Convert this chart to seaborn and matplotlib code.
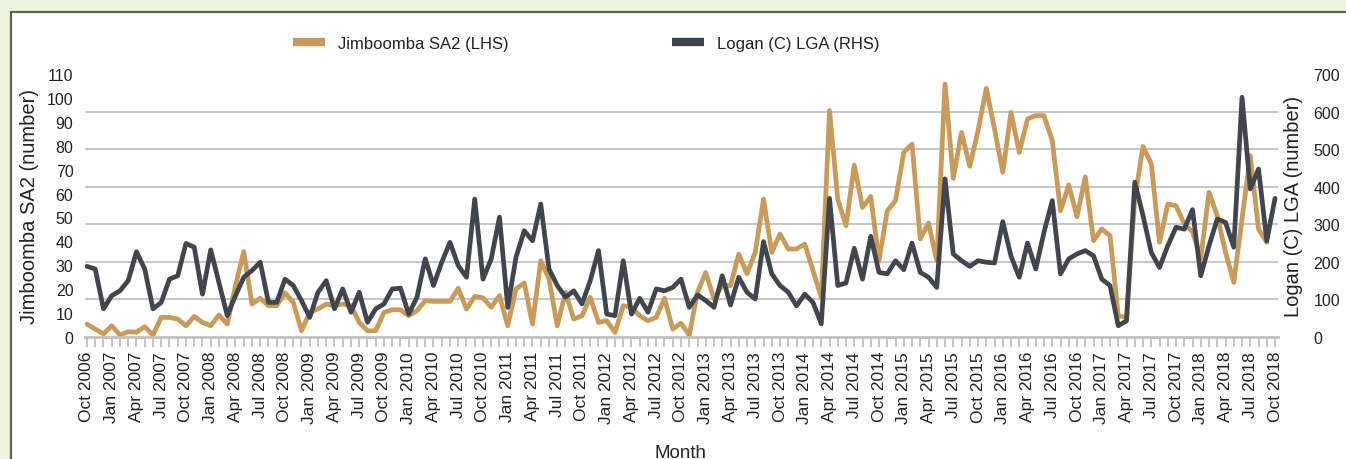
import matplotlib
matplotlib.use("Agg")
import matplotlib.pyplot as plt
from matplotlib.lines import Line2D
from matplotlib.patches import Rectangle
import numpy as np
import pandas as pd
import seaborn as sns

# monthly, Oct 2006 - Oct 2018
months = pd.date_range("2006-10-01", periods=145, freq="MS")

jimboomba = [
    5.4, 3.3, 1.3, 4.7, 0.8, 2.2, 2.0, 4.3, 0.8, 8.2, 8.2, 7.5,
    4.7, 8.6, 6.1, 4.7, 9.2, 5.4, 21.5, 35.7, 13.8, 16.2, 13.1, 13.1,
    18.5, 14.5, 2.6, 10.3, 11.7, 13.8, 13.1, 13.8, 13.1, 6.1, 2.6, 2.6,
    10.3, 11.4, 11.4, 8.9, 11.0, 15.2, 14.9, 14.9, 14.9, 20.4, 11.7, 17.0,
    16.4, 12.4, 17.3, 4.7, 20.1, 22.6, 5.4, 31.9, 24.3, 4.7, 18.7, 7.5,
    8.9, 16.6, 6.1, 6.8, 1.9, 13.1, 12.4, 8.9, 6.8, 8.2, 16.2, 3.3,
    5.8, 0.8, 18.7, 27.0, 15.9, 21.5, 21.5, 34.7, 26.4, 35.4, 57.7, 35.4,
    43.1, 36.8, 36.8, 38.9, 27.7, 16.6, 94.7, 57.7, 46.6, 71.9, 54.2, 58.8,
    31.9, 52.8, 57.0, 77.2, 80.7, 41.0, 47.7, 31.9, 105.8, 66.4, 85.6, 71.4,
    86.3, 104.0, 87.0, 68.9, 94.0, 77.2, 91.2, 92.6, 92.6, 82.1, 52.8, 63.6,
    50.3, 67.0, 40.3, 45.2, 42.4, 8.9, 8.2, 57.7, 79.7, 72.4, 39.6, 55.6,
    54.9, 47.3, 44.0, 33.0, 60.5, 50.7, 35.4, 22.9, 49.4, 75.8, 45.2, 39.6,
    np.nan,
]

logan = [
    188, 181, 75, 110, 123, 150, 227, 181, 75, 92, 154, 163,
    249, 239, 114, 232, 145, 57, 110, 159, 177, 199, 92, 92,
    154, 137, 97, 52, 119, 150, 75, 128, 66, 119, 39, 75,
    88, 128, 130, 61, 106, 208, 137, 199, 252, 190, 159, 367,
    154, 208, 319, 79, 212, 283, 256, 354, 181, 137, 106, 123,
    88, 150, 230, 61, 57, 203, 61, 103, 66, 128, 123, 132,
    154, 79, 112, 97, 79, 163, 85, 159, 119, 101, 254, 168,
    137, 119, 83, 114, 92, 35, 369, 137, 144, 236, 154, 268,
    172, 168, 203, 179, 250, 172, 159, 132, 421, 221, 203, 188,
    203, 199, 197, 307, 215, 159, 250, 181, 279, 363, 168, 208,
    221, 230, 216, 154, 137, 30, 43, 412, 323, 225, 185, 243,
    292, 287, 339, 163, 243, 314, 305, 239, 638, 394, 447, 256,
    369,
]

left_ticks = list(range(0, 111, 10))
right_ticks = list(range(0, 701, 100))
series_names = ["Jimboomba SA2 (LHS)", "Logan (C) LGA (RHS)"]

TAN = "#C99A58"
DARK = "#41464E"
GRID = "#C9C9C9"
TEXT = "#222222"

df = pd.DataFrame({
    "idx": np.arange(len(months)),
    "Jimboomba": jimboomba,
    "Logan": logan,
})

sns.set_theme(style="white")
plt.rcParams["font.family"] = ["Liberation Sans", "DejaVu Sans"]

W, H = 1346, 460
fig = plt.figure(figsize=(W / 100, H / 100), dpi=100, facecolor="#EEF4DC")
# white panel with a dark border
fig.add_artist(Rectangle((11 / W, -0.05), 1.1, (H - 13) / H + 0.05,
                         transform=fig.transFigure, facecolor="white",
                         edgecolor="#5B6058", linewidth=1.6, zorder=-1))

ax = fig.add_axes([84.5 / W, (H - 338) / H, 1193 / W, 263 / H])
ax2 = ax.twinx()

sns.lineplot(data=df, x="idx", y="Jimboomba", ax=ax, color=TAN, linewidth=3.4)
sns.lineplot(data=df, x="idx", y="Logan", ax=ax2, color=DARK, linewidth=3.4)

ax.set_xlim(-0.3, 144.3)
ax.set_ylim(0, 110)
ax2.set_ylim(0, 700)

# left axis labels
ax.set_yticks(left_ticks)
ax.tick_params(axis="y", length=0, pad=8, labelsize=11.5, labelcolor=TEXT)
# gridlines follow the right-hand scale, drawn behind both lines
ax.set_yticks([v * 110 / 700 for v in right_ticks], minor=True)
ax.grid(False)
ax.grid(which="minor", axis="y", color=GRID, linewidth=1.5)
ax.set_axisbelow(True)

ax2.set_yticks(right_ticks)
ax2.tick_params(axis="y", length=0, pad=26, labelsize=11.5, labelcolor=TEXT)
ax2.grid(False)

# x axis: label every quarter, tick every month
ax.set_xticks(df["idx"][::3])
ax.set_xticklabels(months[::3].strftime("%b %Y"), rotation=90)
ax.set_xticks(df["idx"], minor=True)
ax.tick_params(axis="x", which="both", bottom=True, length=7, width=1.2,
               color="#BBBBBB", pad=3, labelsize=12.5, labelcolor=TEXT)
ax.tick_params(axis="y", which="minor", length=0)

for a in (ax, ax2):
    for s in ("top", "left", "right"):
        a.spines[s].set_visible(False)
ax2.spines["bottom"].set_visible(False)
ax.spines["bottom"].set_color("#C0C0C0")
ax.spines["bottom"].set_linewidth(2)

ax.set_xlabel("")
ax.set_ylabel("Jimboomba SA2 (number)", fontsize=14.5, color=TEXT)
ax.yaxis.set_label_coords(-0.0457, 0.5)
ax.yaxis.label.set_va("center")
ax2.set_ylabel("Logan (C) LGA (number)", fontsize=14.5, color=TEXT)
ax2.yaxis.set_label_coords(1.013, 0.5)
ax2.yaxis.label.set_va("center")
ax2.yaxis.label.set_rotation(90)

fig.text(681 / W, (H - 445) / H, "Month", ha="center", va="top",
         fontsize=13.5, color=TEXT)

handles = [Line2D([], [], color=TAN, linewidth=6, solid_capstyle="butt"),
           Line2D([], [], color=DARK, linewidth=6, solid_capstyle="butt")]
fig.legend(handles, series_names, loc="center left",
           bbox_to_anchor=(293 / W, (H - 44) / H), ncol=2, frameon=False,
           fontsize=12, handlelength=1.92, handletextpad=0.78,
           columnspacing=9.8, borderpad=0, borderaxespad=0, labelcolor=TEXT)

fig.savefig("out.png", dpi=100, facecolor=fig.get_facecolor())
plt.close(fig)
